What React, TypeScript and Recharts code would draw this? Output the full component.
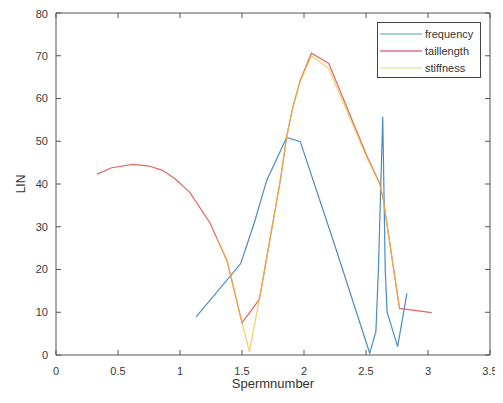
import { LineChart, Line, XAxis, YAxis } from "recharts";

const frequencyX = [1.13, 1.49, 1.6, 1.7, 1.86, 1.97, 2.25, 2.53, 2.58, 2.6, 2.635, 2.655, 2.67, 2.755, 2.83];
const frequencyY = [8.9, 21.4, 31, 40.9, 50.9, 49.9, 25.5, 0.4, 5.5, 20, 55.7, 20, 10.1, 1.95, 14.4];

const taillengthX = [0.33, 0.45, 0.62, 0.75, 0.86, 0.97, 1.08, 1.24, 1.38, 1.5, 1.64, 1.81, 1.86, 1.91, 1.97, 2.06, 2.2, 2.51, 2.61, 2.64, 2.77, 3.03];
const taillengthY = [42.3, 43.8, 44.6, 44.2, 43.2, 41, 38, 31, 22, 7.5, 13, 41, 51, 58, 64.3, 70.6, 68.2, 46.4, 40.2, 36.3, 10.9, 9.9];

const stiffnessX = [1.3, 1.38, 1.5, 1.56, 1.64, 1.81, 1.86, 1.91, 1.97, 2.06, 2.2, 2.51, 2.61, 2.64, 2.77];
const stiffnessY = [27.3, 22, 7.5, 0.8, 13, 41, 51, 58, 64, 70, 67, 46, 40, 36.3, 11];

const xTicks = [0, 0.5, 1, 1.5, 2, 2.5, 3, 3.5];
const yTicks = [0, 10, 20, 30, 40, 50, 60, 70, 80];

const toPoints = (xs: number[], ys: number[]) => xs.map((x, i) => ({ x, y: ys[i] }));

const frequency = toPoints(frequencyX, frequencyY);
const taillength = toPoints(taillengthX, taillengthY);
const stiffness = toPoints(stiffnessX, stiffnessY);

const legendItems = [
  { name: "frequency", color: "#a6d0dc" },
  { name: "taillength", color: "#f4909e" },
  { name: "stiffness", color: "#e8efc4" },
];

const font = "'Liberation Sans', Arial, sans-serif";
const axisColor = "#555";
const tickStyle = { fill: "#3a3a3a", fontSize: 11, fontFamily: font };

// empty tick label for the top/right box edges (tick lines still drawn)
const NoLabel = () => <g />;

function LegendBox() {
  return (
    <div
      style={{
        position: "absolute",
        left: 369,
        top: 14,
        width: 102,
        height: 54,
        border: "1px solid #444",
        background: "#fff",
        fontFamily: font,
        fontSize: 11,
        color: "#333",
      }}
    >
      {legendItems.map((item, i) => (
        <div
          key={item.name}
          style={{ position: "absolute", left: 2, top: 4 + i * 17, height: 14, display: "flex", alignItems: "center", whiteSpace: "nowrap" }}
        >
          <div style={{ width: 42, height: 2, background: item.color }} />
          <span style={{ marginLeft: 3 }}>{item.name}</span>
        </div>
      ))}
    </div>
  );
}

function YLabel(props: any) {
  const vb = props.viewBox || { x: 0, y: 5, width: 48, height: 342 };
  const cx = 13;
  const cy = vb.y + vb.height / 2;
  return (
    <text
      x={cx}
      y={cy}
      transform={`rotate(-90 ${cx} ${cy})`}
      textAnchor="middle"
      dominantBaseline="central"
      fill="#333"
      fontSize={12}
      fontFamily={font}
    >
      LIN
    </text>
  );
}

export default function App() {
  return (
    <div style={{ width: 495, height: 395, position: "relative" }}>
      <LineChart width={495} height={395} margin={{ top: 4, right: 12, bottom: 0, left: 0 }}>
        <XAxis
          xAxisId="b"
          dataKey="x"
          type="number"
          domain={[0, 3.5]}
          ticks={xTicks}
          allowDataOverflow
          height={48}
          stroke={axisColor}
          tickSize={-5}
          tickMargin={17}
          tick={tickStyle}
          label={{ value: "Spermnumber", position: "insideBottom", offset: 15, fill: "#333", fontSize: 13, fontFamily: font }}
        />
        <XAxis
          xAxisId="t"
          orientation="top"
          dataKey="x"
          type="number"
          domain={[0, 3.5]}
          ticks={xTicks}
          allowDataOverflow
          height={1}
          stroke={axisColor}
          tickSize={-5}
          tick={NoLabel}
        />
        <YAxis
          yAxisId="l"
          type="number"
          domain={[0, 80]}
          ticks={yTicks}
          allowDataOverflow
          width={48}
          stroke={axisColor}
          tickSize={-5}
          tickMargin={13}
          tick={tickStyle}
          label={YLabel}
        />
        <YAxis
          yAxisId="r"
          orientation="right"
          type="number"
          domain={[0, 80]}
          ticks={yTicks}
          allowDataOverflow
          width={1}
          stroke={axisColor}
          tickSize={-5}
          tick={NoLabel}
        />
        <Line
          xAxisId="b"
          yAxisId="l"
          data={frequency}
          dataKey="y"
          name="frequency"
          type="linear"
          stroke="#4a8cc4"
          strokeWidth={1.2}
          dot={false}
          isAnimationActive={false}
        />
        <Line
          xAxisId="b"
          yAxisId="l"
          data={taillength}
          dataKey="y"
          name="taillength"
          type="linear"
          stroke="#dd6a5c"
          strokeWidth={1.2}
          dot={false}
          isAnimationActive={false}
        />
        <Line
          xAxisId="t"
          yAxisId="r"
          data={stiffness}
          dataKey="y"
          name="stiffness"
          type="linear"
          stroke="#efbb3a"
          strokeOpacity={0.75}
          strokeWidth={1.2}
          dot={false}
          isAnimationActive={false}
        />
      </LineChart>
      <LegendBox />
    </div>
  );
}
